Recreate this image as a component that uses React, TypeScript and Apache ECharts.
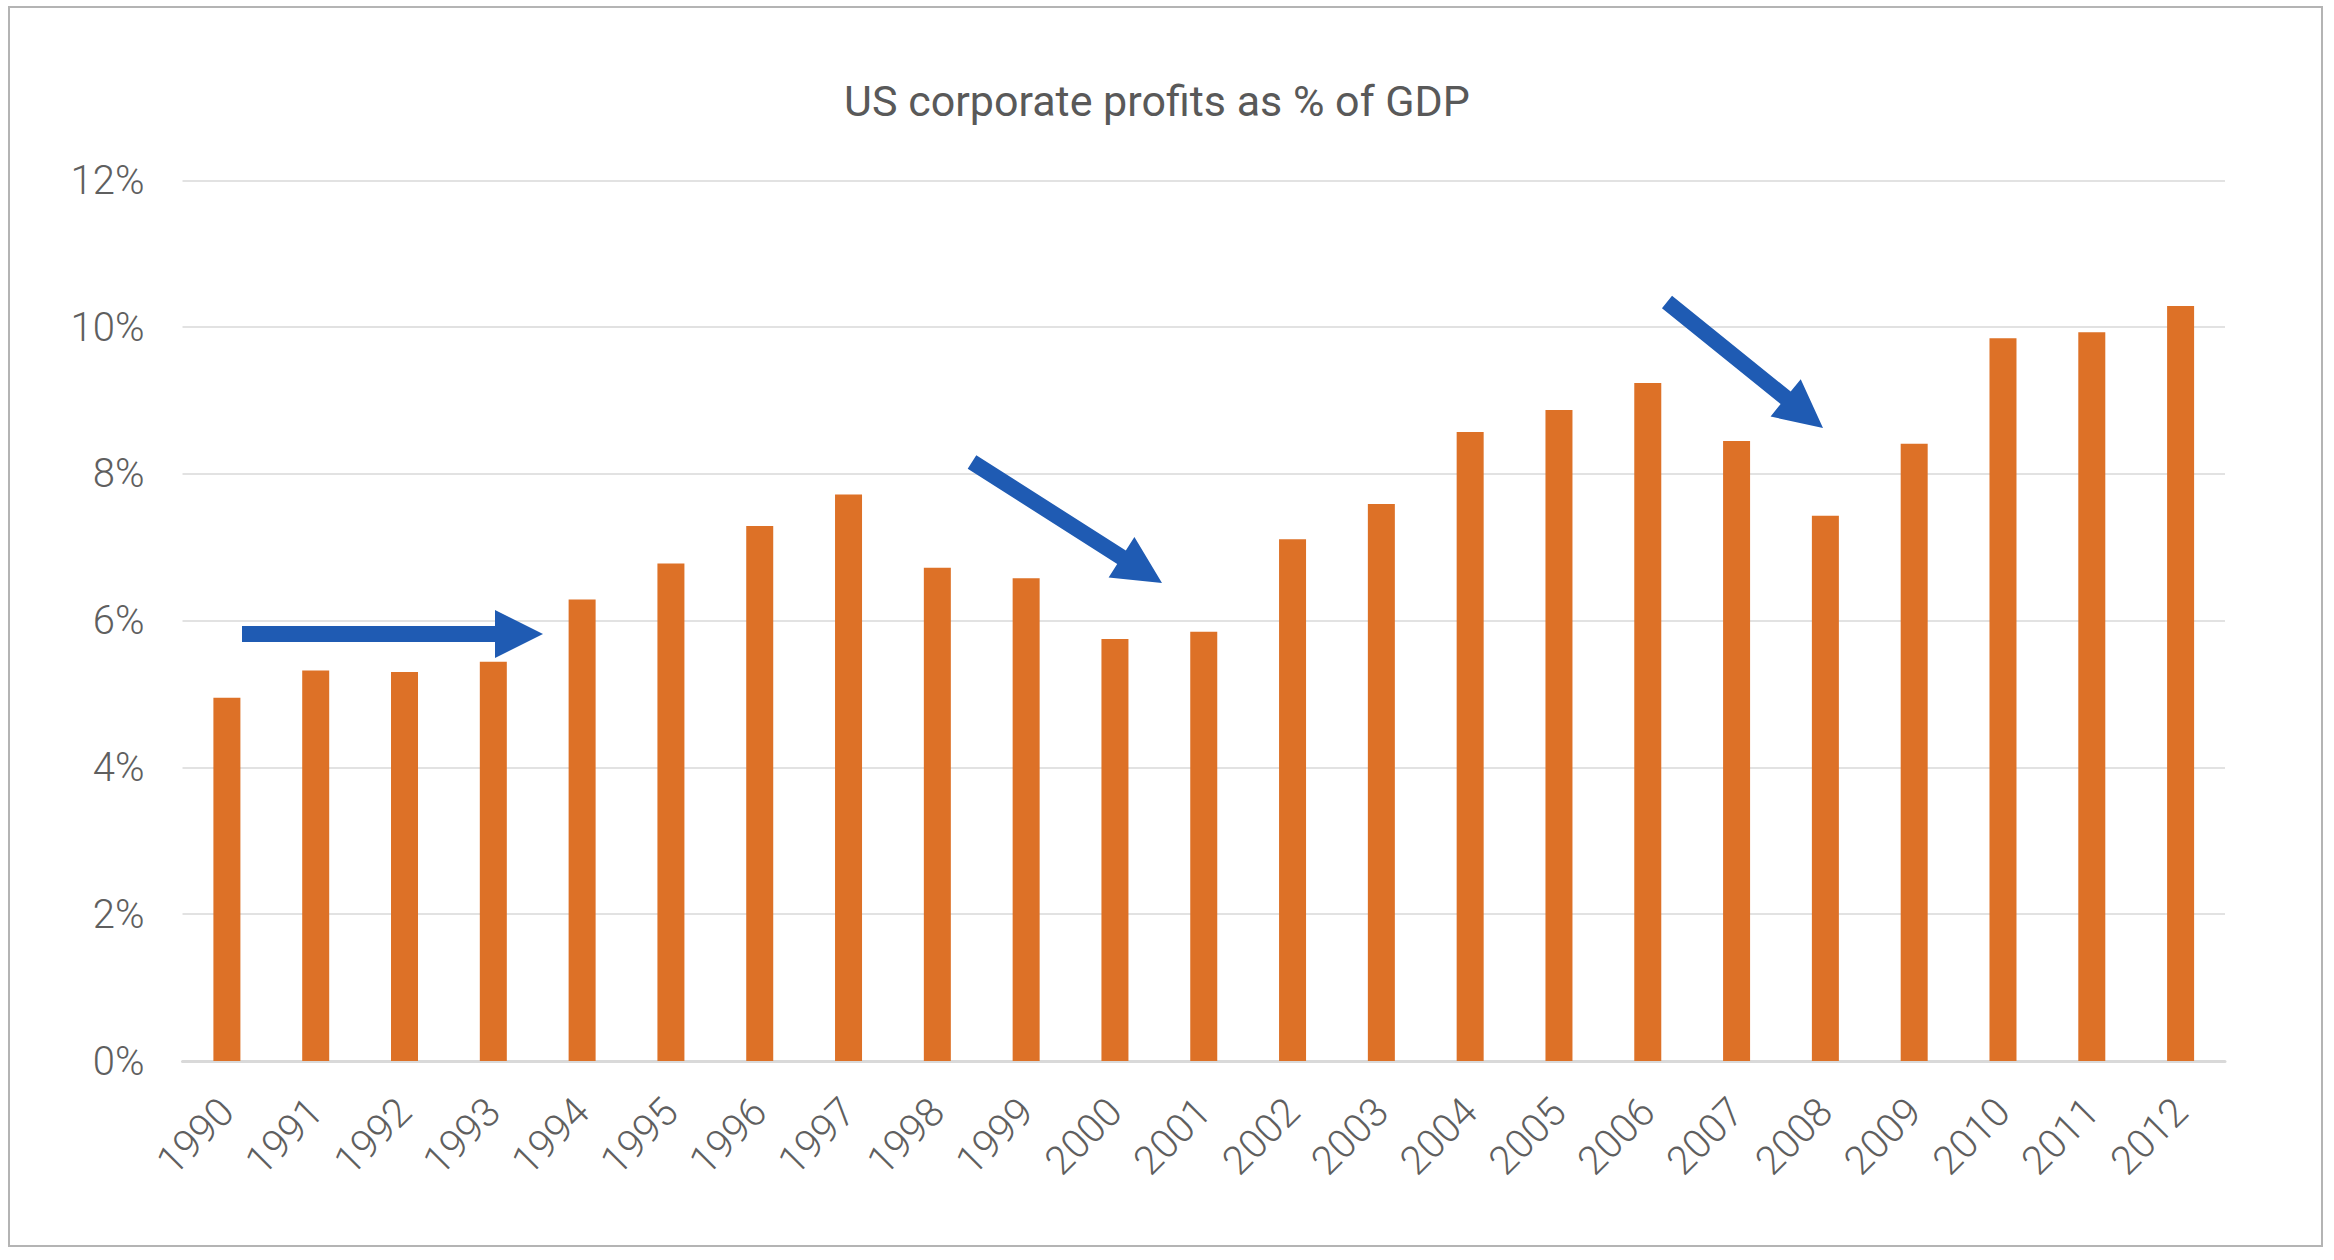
import { useEffect, useRef } from "react";
import * as echarts from "echarts";

const years = [
  "1990", "1991", "1992", "1993", "1994", "1995", "1996", "1997", "1998", "1999", "2000", "2001",
  "2002", "2003", "2004", "2005", "2006", "2007", "2008", "2009", "2010", "2011", "2012",
];
const profitShare = [
  4.95, 5.32, 5.3, 5.44, 6.29, 6.78, 7.29, 7.72, 6.72, 6.58, 5.75, 5.85,
  7.11, 7.59, 8.57, 8.87, 9.24, 8.45, 7.43, 8.41, 9.85, 9.93, 10.29,
];
const yTicks = { min: 0, max: 12, interval: 2 };

// annotation arrows: [fromX, fromY, tipX, tipY] in pixels
const arrows = [
  [242, 634, 543, 634],
  [972, 462, 1162, 583],
  [1667, 302, 1823, 428],
];

function arrowPoints(x1: number, y1: number, x2: number, y2: number) {
  const dx = x2 - x1;
  const dy = y2 - y1;
  const len = Math.sqrt(dx * dx + dy * dy);
  const ux = dx / len, uy = dy / len;
  const nx = -uy, ny = ux;
  const shaft = 8, head = 24, headLen = 48;
  const bx = x2 - ux * headLen, by = y2 - uy * headLen;
  return [
    [x1 + nx * shaft, y1 + ny * shaft],
    [bx + nx * shaft, by + ny * shaft],
    [bx + nx * head, by + ny * head],
    [x2, y2],
    [bx - nx * head, by - ny * head],
    [bx - nx * shaft, by - ny * shaft],
    [x1 - nx * shaft, y1 - ny * shaft],
  ];
}

export default function App(): JSX.Element {
  const chartRef = useRef<HTMLDivElement>(null);
  useEffect(() => {
    const myChart = echarts.init(chartRef.current, null, { renderer: "svg" });
    const font = "Roboto";
    const option = {
      animation: false,
      backgroundColor: "#ffffff",
      title: {
        text: "US corporate profits as % of GDP",
        left: 1157,
        top: 79,
        padding: 0,
        textAlign: "center",
        textStyle: { fontSize: 43, fontWeight: "normal", color: "#595959", fontFamily: font },
      },
      grid: { left: 182.5, right: 109, top: 180.4, bottom: 199, containLabel: false },
      xAxis: {
        type: "category",
        data: years,
        axisLine: { lineStyle: { color: "#d9d9d9", width: 3 } },
        axisTick: { show: false },
        axisLabel: {
          rotate: 45,
          interval: 0,
          margin: 44,
          fontSize: 40,
          fontWeight: 300,
          color: "#5f5f5f",
          fontFamily: font,
        },
      },
      yAxis: {
        type: "value",
        min: yTicks.min,
        max: yTicks.max,
        interval: yTicks.interval,
        axisLine: { show: false },
        axisTick: { show: false },
        axisLabel: {
          formatter: "{value}%",
          margin: 38,
          fontSize: 40,
          fontWeight: 300,
          color: "#5f5f5f",
          fontFamily: font,
        },
        splitLine: { lineStyle: { color: "#d9d9d9", width: 1.5 } },
      },
      series: [
        {
          type: "bar",
          data: profitShare,
          barWidth: 27,
          itemStyle: { color: "#dd7127" },
        },
      ],
      graphic: [
        {
          type: "rect",
          shape: { x: 9, y: 7, width: 2313, height: 1239 },
          style: { fill: "none", stroke: "#b4b4b4", lineWidth: 2 },
          z: 10,
        },
        ...arrows.map((a) => ({
          type: "polygon",
          shape: { points: arrowPoints(a[0], a[1], a[2], a[3]) },
          style: { fill: "#1f5bb3" },
          z: 20,
        })),
      ],
    };
    myChart.setOption(option);
    return () => {
      myChart.dispose();
    };
  }, []);

  return (
    <div
      ref={chartRef}
      style={{ position: "fixed", left: 0, top: 0, width: 2334, height: 1260 }}
    ></div>
  );
}
